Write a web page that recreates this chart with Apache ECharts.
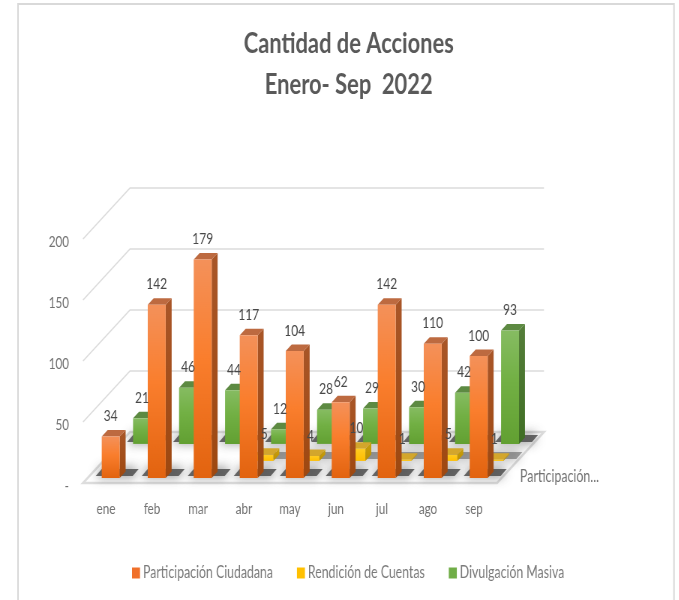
<!DOCTYPE html>
<html>
<head>
<meta charset="utf-8">
<style>html,body{margin:0;padding:0;background:#fff;overflow:hidden}
#wrap{width:679px;height:600px;overflow:hidden;position:relative}
#c{height:600px;transform-origin:0 0;position:absolute;left:0;top:0}</style>
<script src="https://cdn.jsdelivr.net/npm/echarts@6/dist/echarts.min.js"></script>
</head>
<body>
<div id="wrap"><div id="c"></div></div>
<script>
const categories = ['ene','feb','mar','abr','may','jun','jul','ago','sep'];
const participacion = [34,142,179,117,104,62,142,110,100];
const rendicion = [null,null,null,5,4,10,1,5,1];
const divulgacion = [21,46,44,12,28,29,30,42,93];
const seriesNames = ['Participación Ciudadana','Rendición de Cuentas','Divulgación Masiva'];
const yTicks = [0,50,100,150,200];
const depthLabel = 'Participación...';

// The reference is horizontally squeezed: draw wider and squeeze the whole chart the same way.
const S = 0.75;
const X = v => v/S;
const el = document.getElementById('c');
el.style.width = X(679)+'px';
el.style.transform = 'scaleX('+S+')';

const FONT = 'Lato,"Open Sans",sans-serif';
const ROW_DX = X(47/3), ROW_DY = -17;
const FRONT = 0.3, THICK = 0.38, BAR_W = 0.39;
const G = (stops) => new echarts.graphic.LinearGradient(0,0,0,1,stops.map((c)=>({offset:c[0],color:c[1]})));

const palettes = [
  {legend:'#F0702A', front:[[0,'#F4915A'],[0.45,'#FA7E2D'],[1,'#E2630F']], side:[[0,'#A95628'],[1,'#9E4810']], top:'#BD6A40'},
  {legend:'#FFC000', front:[[0,'#FFCC22'],[1,'#FFBE00']], side:[[0,'#C99F10'],[1,'#BC9000']], top:'#D3A62C'},
  {legend:'#70AD47', front:[[0,'#86BC62'],[0.45,'#72B044'],[1,'#62A032']], side:[[0,'#557E3A'],[1,'#3F6E24']], top:'#5D8A42'}
];

function barRender(row){
  return function(params, api){
    const i = api.value(0), v = api.value(1);
    const w = api.size([1,0])[0]*BAR_W;
    const base = api.coord([i,0]), top = api.coord([i,v]);
    const d = row+FRONT;
    const x0 = base[0]-w/2+d*ROW_DX, x1 = x0+w;
    const yb = base[1]+d*ROW_DY, yt = top[1]+d*ROW_DY;
    const ox = THICK*ROW_DX, oy = THICK*ROW_DY;
    const p = palettes[row];
    return {type:'group', children:[
      {type:'polygon', shape:{points:[[x1,yb],[x1+ox,yb+oy],[x1+ox,yt+oy],[x1,yt]]}, style:{fill:G(p.side)}},
      {type:'polygon', shape:{points:[[x0,yt],[x1,yt],[x1+ox,yt+oy],[x0+ox,yt+oy]]}, style:{fill:p.top}},
      {type:'rect', shape:{x:x0,y:yt,width:w,height:yb-yt}, style:{fill:G(p.front)}}
    ]};
  };
}

function shadowRender(params, api){
  const i = api.value(0), row = api.value(1);
  const w = api.size([1,0])[0]*BAR_W;
  const base = api.coord([i,0]);
  const d = row+FRONT;
  const x0 = base[0]-w/2+d*ROW_DX, x1 = x0+w;
  const yb = base[1]+d*ROW_DY-2;
  const c = row===1 ? 'rgba(90,90,90,0.55)' : 'rgba(70,70,70,0.8)';
  return {type:'polygon', shape:{points:[[x0+X(-6),yb],[x1+X(13),yb],[x1+X(19),yb-7],[x0+X(0),yb-7]]},
    style:{fill:c, shadowBlur:12, shadowColor:'rgba(50,50,50,0.9)'}};
}

function frameRender(params, api){
  const t = api.value(0);
  const cs = params.coordSys;
  const xl = cs.x, xr = cs.x+cs.width;
  const y = api.coord([0,t])[1];
  const dx = 3*ROW_DX, dy = 3*ROW_DY;
  const line = {stroke:'#DCDCDC', lineWidth:1.6, fill:'none'};
  if(t===0){
    return {type:'polygon', shape:{points:[[xl,y],[xr,y],[xr+dx,y+dy],[xl+dx,y+dy]]},
      style:{fill:'#fff', stroke:'#DDDDDD', lineWidth:2.5}};
  }
  return {type:'polyline', shape:{points:[[xl,y],[xl+dx,y+dy],[xr+dx,y+dy]]}, style:line};
}

function labelRender(params, api){
  const i = api.value(0), v = api.value(1), row = api.value(2);
  const p = api.coord([i,v]);
  const d = row+FRONT;
  return {type:'text', x:p[0]+d*ROW_DX, y:p[1]+d*ROW_DY-20.5,
    style:{text:String(v), fill:'#484848', font:'16px '+FONT, align:'center', verticalAlign:'middle'}};
}

const values = [participacion, rendicion, divulgacion];
const rows = values.map(vals => vals.map((v,i)=>[i,v]).filter(d=>d[1]!==null));
const shadowData = [], labelData = [];
rows.forEach((r,row)=>r.forEach(d=>{shadowData.push([d[0],row]);labelData.push([d[0],d[1],row]);}));

const chart = echarts.init(el, null, {renderer:'canvas', width:X(679), height:600});
chart.setOption({
  animation:false,
  backgroundColor:'#fff',
  title:{text:'Cantidad de Acciones\nEnero- Sep  2022', left:X(345), top:18, textAlign:'center',
    textStyle:{fontFamily:FONT, fontSize:29.2, fontWeight:'bold', color:'#595959', lineHeight:41}},
  legend:{data:seriesNames, left:X(132), top:565, padding:0, itemWidth:X(8), itemHeight:11, itemGap:X(24), icon:'rect',
    textStyle:{fontFamily:FONT, fontSize:16.4, color:'#7A7A7A', padding:[0,0,0,-1]}},
  grid:{left:X(83), width:X(414), top:239, height:244},
  xAxis:{type:'category', data:categories, boundaryGap:true, axisLine:{show:false}, axisTick:{show:false},
    axisLabel:{fontFamily:FONT, fontSize:15.5, color:'#727272', margin:18}},
  yAxis:{type:'value', min:0, max:200, interval:50, axisLine:{show:false}, axisTick:{show:false}, splitLine:{show:false},
    axisLabel:{margin:X(14), formatter:v=>'{t|'+(v===0?'-':String(v))+'}',
      rich:{t:{fontFamily:FONT, fontSize:15.5, color:'#727272', padding:[6,0,0,0]}}}},
  graphic:[
    {type:'rect', silent:true, z:-1, shape:{x:X(18),y:4,width:X(656),height:620}, style:{fill:'none',stroke:'#D9D9D9',lineWidth:2}},
    {type:'text', silent:true, x:X(520), y:477, style:{text:depthLabel, fill:'#727272', font:'16.5px '+FONT, verticalAlign:'middle'}}
  ],
  series:[
    {type:'custom', name:'marco', z:1, silent:true, clip:false, data:yTicks.map(t=>[t]), encode:{y:0}, renderItem:frameRender},
    {type:'custom', name:'sombras', z:2, silent:true, clip:false, data:shadowData, encode:{x:0}, renderItem:shadowRender},
    {type:'custom', name:seriesNames[2], z:3, clip:false, data:rows[2], encode:{x:0,y:1}, itemStyle:{color:palettes[2].legend}, renderItem:barRender(2)},
    {type:'custom', name:seriesNames[1], z:4, clip:false, data:rows[1], encode:{x:0,y:1}, itemStyle:{color:palettes[1].legend}, renderItem:barRender(1)},
    {type:'custom', name:seriesNames[0], z:5, clip:false, data:rows[0], encode:{x:0,y:1}, itemStyle:{color:palettes[0].legend}, renderItem:barRender(0)},
    {type:'custom', name:'etiquetas', z:6, silent:true, clip:false, data:labelData, encode:{x:0,y:1}, renderItem:labelRender}
  ]
});
</script>
</body>
</html>
